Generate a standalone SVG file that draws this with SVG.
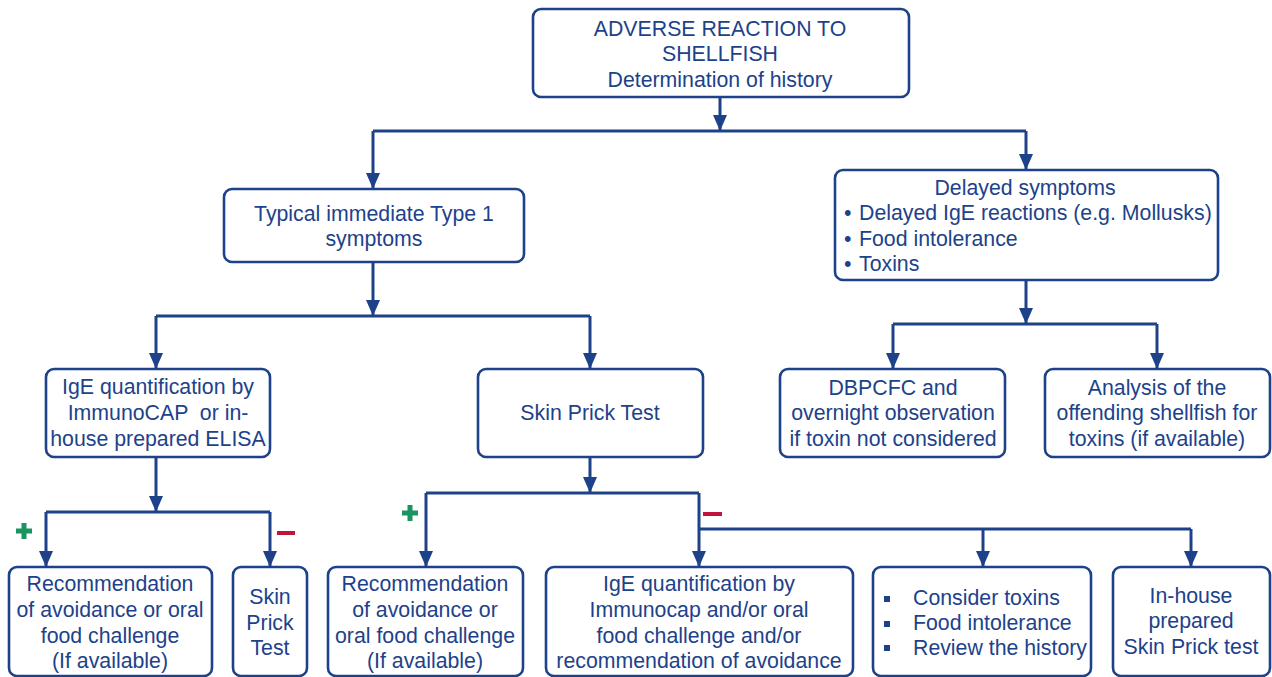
<svg xmlns="http://www.w3.org/2000/svg" width="1272" height="677" viewBox="0 0 1272 677">
<style>
.box{fill:#fff;stroke:#1d428a;stroke-width:2.6}
.t{font-family:"Liberation Sans",Arial,sans-serif;font-size:21.3px;fill:#1d428a}
.c{text-anchor:middle}
.ln{fill:none;stroke:#1d428a;stroke-width:3}
.plus{fill:#1a9460}
.minus{fill:#c0143c}
</style>
<defs>
<marker id="ah" markerUnits="userSpaceOnUse" markerWidth="16" markerHeight="14" viewBox="0 0 16 14" refX="16" refY="7" orient="auto">
<path d="M0,0 L16,7 L0,14 Z" fill="#1d428a"/>
</marker>
</defs>
<rect width="1272" height="677" fill="#fff"/>
<g id="connectors">
<path class="ln" d="M720,97 V131" marker-end="url(#ah)"/>
<path class="ln" d="M373,131 H1026"/>
<path class="ln" d="M373,131 V189" marker-end="url(#ah)"/>
<path class="ln" d="M1026,131 V170" marker-end="url(#ah)"/>
<path class="ln" d="M373,262 V316" marker-end="url(#ah)"/>
<path class="ln" d="M156,316 H590"/>
<path class="ln" d="M156,316 V369" marker-end="url(#ah)"/>
<path class="ln" d="M590,316 V369" marker-end="url(#ah)"/>
<path class="ln" d="M1026,280 V324" marker-end="url(#ah)"/>
<path class="ln" d="M893,324 H1157"/>
<path class="ln" d="M893,324 V369" marker-end="url(#ah)"/>
<path class="ln" d="M1157,324 V369" marker-end="url(#ah)"/>
<path class="ln" d="M156,457 V512" marker-end="url(#ah)"/>
<path class="ln" d="M46,512 H270"/>
<path class="ln" d="M46,512 V567" marker-end="url(#ah)"/>
<path class="ln" d="M270,512 V567" marker-end="url(#ah)"/>
<path class="ln" d="M590,457 V493" marker-end="url(#ah)"/>
<path class="ln" d="M426,493 H699"/>
<path class="ln" d="M426,493 V567" marker-end="url(#ah)"/>
<path class="ln" d="M699,493 V567" marker-end="url(#ah)"/>
<path class="ln" d="M699,529 H1191"/>
<path class="ln" d="M983,529 V567" marker-end="url(#ah)"/>
<path class="ln" d="M1191,529 V567" marker-end="url(#ah)"/>
<path class="plus" d="M16,528.5 h5.5 v-5.5 h5 v5.5 h5.5 v5 h-5.5 v5.5 h-5 v-5.5 h-5.5 Z"/>
<rect class="minus" x="277" y="531" width="18" height="4"/>
<path class="plus" d="M402,510.5 h5.5 v-5.5 h5 v5.5 h5.5 v5 h-5.5 v5.5 h-5 v-5.5 h-5.5 Z"/>
<rect class="minus" x="703" y="512" width="19" height="4"/>
</g>
<g id="n-top">
<rect class="box" x="533" y="9" width="376" height="88" rx="8"/>
<text class="t c" x="720" y="36">ADVERSE REACTION TO</text>
<text class="t c" x="720" y="61">SHELLFISH</text>
<text class="t c" x="720" y="87">Determination of history</text>
</g>
<g id="n-typical">
<rect class="box" x="224" y="189" width="300" height="73" rx="8"/>
<text class="t c" x="374" y="221">Typical immediate Type 1</text>
<text class="t c" x="374" y="246">symptoms</text>
</g>
<g id="n-delayed">
<rect class="box" x="835" y="170" width="383" height="110" rx="8"/>
<text class="t c" x="1025" y="195">Delayed symptoms</text>
<text class="t" x="844" y="220">•</text>
<text class="t" x="859" y="220">Delayed IgE reactions (e.g. Mollusks)</text>
<text class="t" x="844" y="246">•</text>
<text class="t" x="859" y="246">Food intolerance</text>
<text class="t" x="844" y="271">•</text>
<text class="t" x="859" y="271">Toxins</text>
</g>
<g id="n-ige">
<rect class="box" x="46" y="369" width="224" height="88" rx="8"/>
<text class="t c" x="158" y="394">IgE quantification by</text>
<text class="t c" x="158" y="420" xml:space="preserve">ImmunoCAP  or in-</text>
<text class="t c" x="158" y="446">house prepared ELISA</text>
</g>
<g id="n-spt">
<rect class="box" x="478" y="369" width="225" height="88" rx="8"/>
<text class="t c" x="590" y="420">Skin Prick Test</text>
</g>
<g id="n-dbpcfc">
<rect class="box" x="780" y="369" width="225" height="88" rx="8"/>
<text class="t c" x="893" y="395">DBPCFC and</text>
<text class="t c" x="893" y="420">overnight observation</text>
<text class="t c" x="893" y="446">if toxin not considered</text>
</g>
<g id="n-analysis">
<rect class="box" x="1045" y="369" width="225" height="88" rx="8"/>
<text class="t c" x="1157" y="395">Analysis of the</text>
<text class="t c" x="1157" y="420">offending shellfish for</text>
<text class="t c" x="1157" y="446">toxins (if available)</text>
</g>
<g id="n-rec1">
<rect class="box" x="9" y="567" width="203" height="109" rx="8"/>
<text class="t c" x="110" y="591">Recommendation</text>
<text class="t c" x="110" y="617">of avoidance or oral</text>
<text class="t c" x="110" y="643">food challenge</text>
<text class="t c" x="110" y="668">(If available)</text>
</g>
<g id="n-spt2">
<rect class="box" x="233" y="567" width="74" height="109" rx="8"/>
<text class="t c" x="270" y="604">Skin</text>
<text class="t c" x="270" y="630">Prick</text>
<text class="t c" x="270" y="655">Test</text>
</g>
<g id="n-rec2">
<rect class="box" x="328" y="567" width="195" height="109" rx="8"/>
<text class="t c" x="425" y="591">Recommendation</text>
<text class="t c" x="425" y="617">of avoidance or</text>
<text class="t c" x="425" y="643">oral food challenge</text>
<text class="t c" x="425" y="668">(If available)</text>
</g>
<g id="n-ige2">
<rect class="box" x="546" y="567" width="307" height="109" rx="8"/>
<text class="t c" x="699" y="591">IgE quantification by</text>
<text class="t c" x="699" y="617">Immunocap and/or oral</text>
<text class="t c" x="699" y="643">food challenge and/or</text>
<text class="t c" x="699" y="668">recommendation of avoidance</text>
</g>
<g id="n-consider">
<rect class="box" x="873" y="567" width="218" height="109" rx="8"/>
<rect x="884" y="596" width="6" height="6" fill="#1d428a"/>
<text class="t" x="913" y="605">Consider toxins</text>
<rect x="884" y="621" width="6" height="6" fill="#1d428a"/>
<text class="t" x="913" y="630">Food intolerance</text>
<rect x="884" y="645" width="6" height="6" fill="#1d428a"/>
<text class="t" x="913" y="655">Review the history</text>
</g>
<g id="n-inhouse">
<rect class="box" x="1113" y="567" width="157" height="109" rx="8"/>
<text class="t c" x="1191" y="603">In-house</text>
<text class="t c" x="1191" y="628">prepared</text>
<text class="t c" x="1191" y="654">Skin Prick test</text>
</g>
</svg>
